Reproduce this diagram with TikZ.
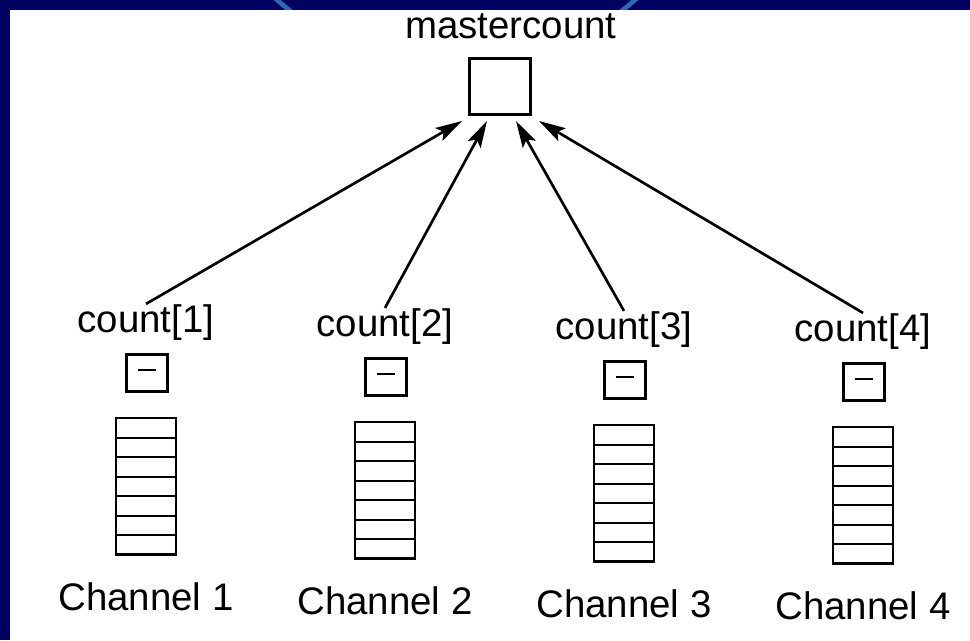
\documentclass[tikz,border=0pt]{standalone}
\usepackage{fontspec}
\setmainfont{Liberation Sans}
\usetikzlibrary{arrows.meta}

\definecolor{framenavy}{RGB}{0,0,96}
\definecolor{arcblue}{RGB}{45,105,175}

\begin{document}
\begin{tikzpicture}[x=0.75pt, y=-0.75pt,
    lbl/.style={inner sep=0pt, font=\fontsize{28.8}{30}\selectfont},
    cell/.style={draw, line width=1.5pt},
    flag/.style={draw, line width=1.7pt, inner sep=0pt, minimum width=30.75pt, minimum height=27.75pt},
    link/.style={line width=2pt, -{Stealth[length=20pt, width=11pt, inset=4pt]}}]

\useasboundingbox (0,0) rectangle (970,640);

% Slide frame with the blue arc peeking out on top
\fill[framenavy] (0,0) rectangle (970,640);
\begin{scope}
    \clip (0,0) rectangle (970,10);
    \draw[arcblue, line width=3.5pt] (456,-201) circle[radius=201.75pt];
\end{scope}
\fill[white] (10,10) rectangle (970,640); % Panel

% Master counter
\node[lbl, anchor=base] (mlabel) at (511,38) {mastercount};
\node[draw, line width=2.6pt, inner sep=0pt, minimum width=45.75pt, minimum height=42pt] (master) at (500,86.5) {};

% One column per channel: label, counter, buffer, arrow
\foreach \i/\x/\dy/\tx in {1/146/0/462, 2/385/4/487, 3/624/7/516, 4/863/9/539} {
    \node[lbl, anchor=base] (count\i) at (\x,332+\dy) {count[\i]};
    \node[flag] (flag\i) at (\x+1,373+\dy) {};
    \draw[line width=1.1pt] ([xshift=-7pt, yshift=2.25pt]flag\i.center) -- ([xshift=7pt, yshift=2.25pt]flag\i.center); % Dash
    \foreach \k in {0,1,...,6} {
        \draw[cell] (\x-30,418+\dy+\k*19.5) rectangle +(60,19.5); % Buffer slots
    }
    \draw[line width=2pt] (\x-30,418+\dy) rectangle +(60,136.5); % Buffer outline
    \node[lbl, anchor=base] (chan\i) at (\x,610+\dy) {Channel \i};
    \coordinate (tip\i) at (\tx,121);
    \draw[link] (count\i.north) -- (tip\i);
}

\end{tikzpicture}
\end{document}
